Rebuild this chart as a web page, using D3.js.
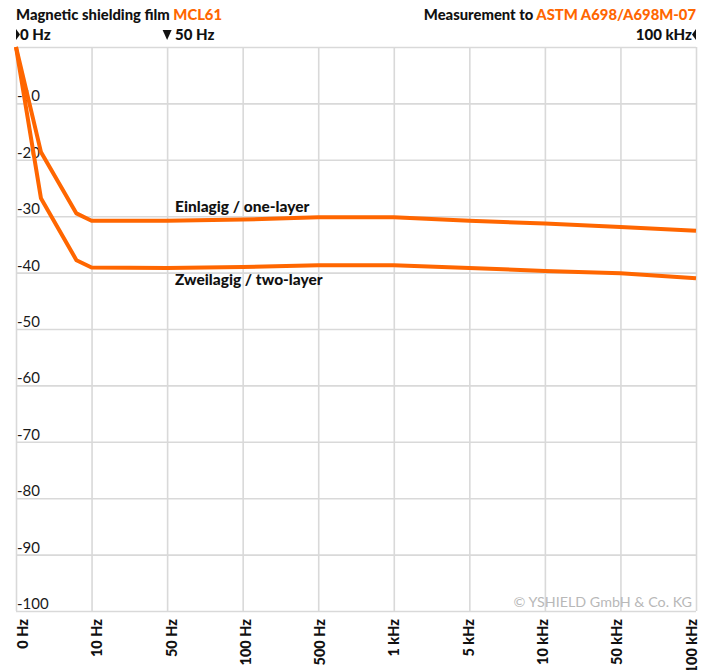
<!DOCTYPE html>
<html>
<head>
<meta charset="utf-8">
<script src="https://cdn.jsdelivr.net/npm/d3@7"></script>
<style>
  html, body { margin: 0; padding: 0; background: #fff; }
  svg { display: block; font-family: Lato, "Open Sans", sans-serif; }
</style>
</head>
<body>
<svg id="chart" width="712" height="670"></svg>
<script>
// ---- data ----
const categories = ["0 Hz","10 Hz","50 Hz","100 Hz","500 Hz","1 kHz","5 kHz","10 kHz","50 kHz","100 kHz"];
const categoryFreqs = [0,10,50,100,500,1000,5000,10000,50000,100000];
const freqs    = [0, 3.3, 8, 10, 50, 100, 500, 1000, 5000, 10000, 50000, 100000];
const oneLayer = [0, -18.6, -29.5, -30.8, -30.8, -30.6, -30.2, -30.2, -30.8, -31.3, -31.9, -32.6];
const twoLayer = [0, -26.8, -37.8, -39.1, -39.2, -39.0, -38.7, -38.7, -39.2, -39.7, -40.1, -41.0];
const yTicks = [0,-10,-20,-30,-40,-50,-60,-70,-80,-90,-100];
const seriesNames = ["Einlagig / one-layer", "Zweilagig / two-layer"];

const orange = "#ff6600";
const grid = "#d9d9d9";
const BOLD = 900;

const svg = d3.select("#chart");
const L = 16, R = 696, T = 47, B = 611;

const xCat = d3.scalePoint().domain(categories).range([L, R]);
const xLab = d3.scalePoint().domain(categories).range([L + 7, R - 4.5]);
const x = d3.scaleLinear().domain(categoryFreqs).range(categories.map(c => xCat(c)));
const y = d3.scaleLinear().domain([0, -100]).range([T, B]);

// horizontal grid via axis
const gy = svg.append("g").attr("transform", `translate(${L},0)`)
  .call(d3.axisRight(y).tickValues(yTicks).tickSize(R - L).tickFormat(""));
gy.select(".domain").remove();
gy.selectAll("line").attr("stroke", grid).attr("stroke-width", 1.6);

// vertical grid via axis
const gx = svg.append("g").attr("transform", `translate(0,${T})`)
  .call(d3.axisBottom(xCat).tickSize(B - T).tickFormat(""));
gx.select(".domain").remove();
gx.selectAll("line").attr("stroke", grid).attr("stroke-width", 1.6);

// y labels inside plot
svg.append("g").selectAll("text").data(yTicks.filter(d => d !== 0)).join("text")
  .attr("x", L + 1).attr("y", d => y(d) - 2)
  .attr("font-size", 15).attr("fill", "#1a1a1a")
  .text(d => d);

// bottom x labels rotated
svg.append("g").selectAll("text").data(categories).join("text")
  .attr("transform", d => `translate(${xLab(d) + 5},${B + 8}) rotate(-90)`)
  .attr("text-anchor", "end")
  .attr("font-size", 14.5).attr("font-weight", BOLD).attr("fill", "#111")
  .text(d => d);

// watermark
svg.append("text").attr("x", 692).attr("y", 607).attr("text-anchor", "end")
  .attr("font-size", 14.3).attr("fill", "#b8b8b8").text("© YSHIELD GmbH & Co. KG");

// lines
const line = d3.line().x((d, i) => x(freqs[i])).y(d => y(d));
[oneLayer, twoLayer].forEach(s => {
  svg.append("path").datum(s).attr("d", line)
    .attr("fill", "none").attr("stroke", orange).attr("stroke-width", 4)
    .attr("stroke-linejoin", "round");
});

// series labels
svg.append("text").attr("x", 175).attr("y", 212).attr("font-size", 15.5).attr("font-weight", BOLD)
  .attr("fill", "#111").text(seriesNames[0]);
svg.append("text").attr("x", 175).attr("y", 285).attr("font-size", 15.5).attr("font-weight", BOLD)
  .attr("fill", "#111").text(seriesNames[1]);

// header
const t1 = svg.append("text").attr("x", 16).attr("y", 20).attr("font-size", 14.8).attr("font-weight", BOLD).attr("fill", "#111");
t1.append("tspan").text("Magnetic shielding film ");
t1.append("tspan").attr("fill", orange).text("MCL61");
const t2 = svg.append("text").attr("x", 696).attr("y", 20).attr("text-anchor", "end").attr("font-size", 14.8).attr("font-weight", BOLD).attr("fill", "#111");
t2.append("tspan").text("Measurement to ");
t2.append("tspan").attr("fill", orange).text("ASTM A698/A698M-07");

// markers row
const markerY = 40;
svg.append("path").attr("d", `M${x(0)},${markerY-11}L${x(0)+4},${markerY-5.5}L${x(0)},${markerY}Z`).attr("fill", "#111");
svg.append("text").attr("x", 20).attr("y", markerY).attr("font-size", 15).attr("font-weight", BOLD).attr("fill", "#111").text("0 Hz");
const x50 = x(50);
svg.append("path").attr("d", `M${x50-4.5},${markerY-10}L${x50+4.5},${markerY-10}L${x50},${markerY}Z`).attr("fill", "#111");
svg.append("text").attr("x", x50 + 8).attr("y", markerY).attr("font-size", 15).attr("font-weight", BOLD).attr("fill", "#111").text("50 Hz");
const xMax = x(100000);
svg.append("path").attr("d", `M${xMax},${markerY-11}L${xMax-4},${markerY-5.5}L${xMax},${markerY}Z`).attr("fill", "#111");
svg.append("text").attr("x", xMax - 4).attr("y", markerY).attr("text-anchor", "end").attr("font-size", 15).attr("font-weight", BOLD).attr("fill", "#111").text("100 kHz");
</script>
</body>
</html>
